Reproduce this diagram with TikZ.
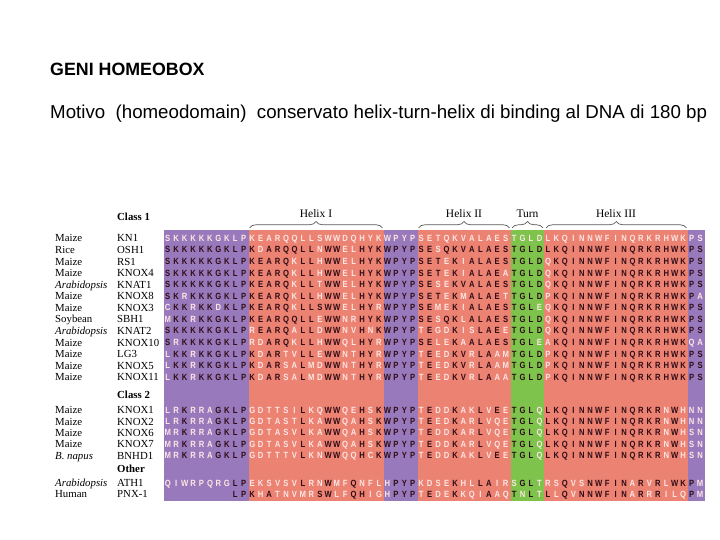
\documentclass[tikz,border=0pt]{standalone}
\usepackage{fontspec}
\setmainfont{Liberation Serif}
\newfontfamily\hbsans{Liberation Sans}
\newfontfamily\hbseq[FakeStretch=0.85]{Liberation Sans}
\usetikzlibrary{decorations.pathreplacing}
\definecolor{hbpurple}{RGB}{152,122,188}
\definecolor{hbsalmon}{RGB}{236,130,114}
\definecolor{hbgreen}{RGB}{125,195,76}
\definecolor{hbdark}{RGB}{48,12,22}
\definecolor{hblight}{RGB}{253,230,228}
\definecolor{hbbrace}{RGB}{90,90,90}
\tikzset{
 seqch/.style={font=\hbseq\bfseries\fontsize{9}{9}\selectfont, inner sep=0pt, anchor=base},
 lab/.style={font=\fontsize{10.8}{10.8}\selectfont, inner sep=0pt, anchor=base west},
 classlab/.style={font=\bfseries\fontsize{10.8}{10.8}\selectfont, inner sep=0pt, anchor=base west},
 helixlab/.style={font=\fontsize{11.5}{11.5}\selectfont, inner sep=0pt, anchor=base},
 hbbr/.style={draw=hbbrace, line width=0.7pt, decorate, decoration={brace, amplitude=6.5pt}},
}
\makeatletter
\newcount\hbcol
\newcommand\hbletter[4]{\node[seqch,text=#1] at ({163.5+8.45*(#2-0.5)},#3+3.3) {#4};}
\newcommand\seqrow[2]{%
  \hbcol=0
  \@tfor\hbch:=#2\do{%
    \advance\hbcol by 1
    \if\hbch.\else
      \ifnum\expandafter`\hbch>`Z
        \hbletter{hblight}{\the\hbcol}{#1}{\uppercase\expandafter{\hbch}}%
      \else
        \hbletter{hbdark}{\the\hbcol}{#1}{\hbch}%
      \fi
    \fi}}
\makeatother
\newcommand\hbrow[4]{%
  \node[lab] at (55,#1+3.8) {#2};
  \node[lab] at (117,#1+3.8) {#3};
  \seqrow{#1}{#4}}
\begin{document}
\begin{tikzpicture}[x=1pt,y=-1pt]
\useasboundingbox (0,0) rectangle (720,540);
\fill[white] (0,0) rectangle (720,540);
\node[font=\hbsans\bfseries\fontsize{17.8}{17.8}\selectfont, anchor=base west, inner sep=0] (title) at (50,76) {GENI HOMEOBOX};
\node[font=\hbsans\fontsize{18.7}{18.7}\selectfont, anchor=base west, inner sep=0] (sub) at (50,119) {Motivo\ \ (homeodomain)\ \ conservato helix-turn-helix di binding al DNA di 180 bp};
% bands
\fill[hbpurple] (163.5,230) rectangle (248.5,501);
\fill[hbsalmon] (248.5,230) rectangle (383.7,501);
\fill[hbpurple] (383.7,230) rectangle (417.5,501);
\fill[hbsalmon] (417.5,230) rectangle (510.5,501);
\fill[hbgreen] (510.5,230) rectangle (544.3,501);
\fill[hbsalmon] (544.3,230) rectangle (688,501);
\fill[hbpurple] (688,230) rectangle (705,501);
% braces
\draw[hbbr] (249.5,228) -- (382.5,228);
\node[helixlab] (h1) at (316,218) {Helix I};
\draw[hbbr] (418.5,228) -- (509.5,228);
\node[helixlab] (h2) at (464,218) {Helix II};
\draw[hbbr] (512,228) -- (543,228);
\node[helixlab] (tu) at (527.5,218) {Turn};
\draw[hbbr] (546,228) -- (686.5,228);
\node[helixlab] (h3) at (616,218) {Helix III};
% class labels
\node[classlab] (c1) at (117,221) {Class 1};
\node[classlab] (c2) at (117,398) {Class 2};
\node[classlab] (c3) at (117,472) {Other};
% rows
\hbrow{238}{Maize}{KN1}{skkkkkgklp kearqqllswwdqhyk wpyp setqkvalaes tgld lkqinnwfinqrkrhwk ps}
\hbrow{249.6}{Rice}{OSH1}{SKKKKKGKLP KdARQQLLnWWelHYK WPYP SEsQKVALAES TGLD LKQINNWFINQRKRHWK PS}
\hbrow{261.2}{Maize}{RS1}{SKKKKKGKLP KEARQkLLhWWelHYK WPYP SETeKiALAES TGLD qKQINNWFINQRKRHWK PS}
\hbrow{272.7}{Maize}{KNOX4}{SKKKKKGKLP KEARQkLLhWWelHYK WPYP SETeKiALAEa TGLD qKQINNWFINQRKRHWK PS}
\hbrow{284.3}{\textit{Arabidopsis}}{KNAT1}{SKKKKKGKLP KEARQkLLtWWelHYK WPYP SEseKVALAES TGLD qKQINNWFINQRKRHWK PS}
\hbrow{295.9}{Maize}{KNOX8}{SKrKKKGKLP KEARQkLLhWWelHYK WPYP SETeKmALAEt TGLD pKQINNWFINQRKRHWK Pa}
\hbrow{307.5}{Maize}{KNOX3}{cKKrKKdKLP KEARQkLLSWWelHYr WPYP SEmeKiALAES TGLe qKQINNWFINQRKRHWK PS}
\hbrow{319.1}{Soybean}{SBH1}{mKKrKKGKLP KEARQQLLeWWnrHYK WPYP SEsQKlALAES TGLD qKQINNWFINQRKRHWK PS}
\hbrow{330.6}{\textit{Arabidopsis}}{KNAT2}{SKKKKKGKLP rEARQaLLdWWnvHnK WPYP tEgdKisLAEe TGLD qKQINNWFINQRKRHWK PS}
\hbrow{342.2}{Maize}{KNOX10}{SrKKKKGKLP rdARQkLLhWWqlHYr WPYP SEleKaALAES TGLe aKQINNWFINQRKRHWK qa}
\hbrow{353.8}{Maize}{LG3}{lKKrKKGKLP KdARtvLLeWWntHYr WPYP tEedKVrLAam TGLD pKQINNWFINQRKRHWK PS}
\hbrow{365.4}{Maize}{KNOX5}{lKKrKKGKLP KdARsaLmdWWntHYr WPYP tEedKVrLAam TGLD pKQINNWFINQRKRHWK PS}
\hbrow{377}{Maize}{KNOX11}{lKKrKKGKLP KdARsaLmdWWntHYr WPYP tEedKVrLAaa TGLD pKQINNWFINQRKRHWK PS}
\hbrow{410}{Maize}{KNOX1}{lrKrraGKLP gdttsiLkqWWqeHsK WPYP tEddKakLvEe TGLq LKQINNWFINQRKRnWh nn}
\hbrow{421.3}{Maize}{KNOX2}{lrKrraGKLP gdtastLkaWWqaHsK WPYP tEedKarLvqe TGLq LKQINNWFINQRKRnWh nn}
\hbrow{432.6}{Maize}{KNOX6}{mrKrraGKLP gdtasvLkaWWqaHsK WPYP tEddKarLvqe TGLq LKQINNWFINQRKRnWh sn}
\hbrow{443.9}{Maize}{KNOX7}{mrKrraGKLP gdtasvLkaWWqaHsK WPYP tEddKarLvqe TGLq LKQINNWFINQRKRnWh sn}
\hbrow{455.2}{\textit{B. napus}}{BNHD1}{mrKrraGKLP gdtttvLknWWqqHcK WPYP tEddKakLvEe TGLq LKQINNWFINQRKRnWh sn}
\hbrow{483}{\textit{Arabidopsis}}{ATH1}{qiwrpqrgLP eksvsvLrnWmfQnfl hPYP kdseKhlLAir sGLt rsQvsNWFINaRvRlWK Pm}
\hbrow{494}{Human}{PNX-1}{........LP KhAtnvmrSWlfQHig hPYP tEdeKkqiAaq TnLt LlQvNNWFINaRrRilq Pm}
\end{tikzpicture}
\end{document}
